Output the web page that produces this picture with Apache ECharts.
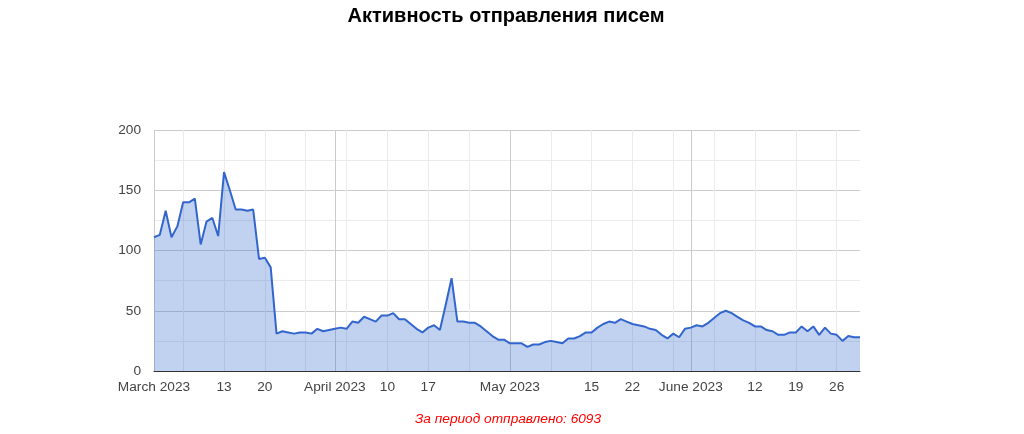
<!DOCTYPE html>
<html>
<head>
<meta charset="utf-8">
<script src="https://cdn.jsdelivr.net/npm/echarts@6/dist/echarts.min.js"></script>
<style>
html,body{margin:0;padding:0;background:#fff;}
#chart{width:1024px;height:434px;}
</style>
</head>
<body>
<div id="chart"></div>
<script>
// Dates: one per day, 2023-03-01 .. 2023-06-30
const startDate = '2023-03-01';
const dayCount = 122;

// Daily sent-letter counts
const sentValues = [
  111,113,133,111,120,140,140,143,105,124,127,112,165,150,134,134,133,134,93,94,86,
  31,33,32,31,32,32,31,35,33,34,35,36,35,41,40,45,43,41,46,46,48,43,
  43,39,35,32,36,38,34,55,77,41,41,40,40,37,33,29,26,26,23,23,
  23,20,22,22,24,25,24,23,27,27,29,32,32,36,39,41,40,43,41,39,38,
  37,35,34,30,27,31,28,35,36,38,37,40,44,48,50,48,45,42,40,37,37,34,33,
  30,30,32,32,37,33,37,30,36,31,30,25,29,28,28
];

// Tick labels shown on the x axis
const shownTickDates = ['2023-03-01','2023-03-13','2023-03-20','2023-04-01','2023-04-10','2023-04-17',
  '2023-05-01','2023-05-15','2023-05-22','2023-06-01','2023-06-12','2023-06-19','2023-06-26'];
const monthNames = ['January','February','March','April','May','June','July','August','September','October','November','December'];

// Gridline positions
const weekLineDates = ['2023-03-06','2023-03-13','2023-03-20','2023-03-27','2023-04-03','2023-04-10','2023-04-17','2023-04-24',
  '2023-05-01','2023-05-08','2023-05-15','2023-05-22','2023-05-29','2023-06-05','2023-06-12','2023-06-19','2023-06-26'];
const monthLineDates = ['2023-03-01','2023-04-01','2023-05-01','2023-06-01'];

const yTicks = [0, 50, 100, 150, 200];

const titleText = 'Активность отправления писем';
const subtitleText = 'За период отправлено: 6093';

function pad(n){return (n<10?'0':'')+n;}
const categories = [];
{
  const d0 = new Date(startDate + 'T00:00:00Z');
  for (let i = 0; i < dayCount; i++) {
    const d = new Date(d0.getTime() + i*86400000);
    categories.push(d.getUTCFullYear() + '-' + pad(d.getUTCMonth()+1) + '-' + pad(d.getUTCDate()));
  }
}

function fmtLabel(v){
  const parts = v.split('-');
  const day = parseInt(parts[2],10);
  if (day === 1) return monthNames[parseInt(parts[1],10)-1] + ' ' + parts[0];
  return String(day);
}

const font = '"Liberation Sans", Arial, sans-serif';
const chart = echarts.init(document.getElementById('chart'));
chart.setOption({
  animation: false,
  backgroundColor: '#fff',
  textStyle: { fontFamily: font },
  grid: { left: 154, right: 164, top: 130, bottom: 63, containLabel: false },
  xAxis: [{
    type: 'category',
    data: categories,
    boundaryGap: false,
    axisLine: { show: true, lineStyle: { color: '#333', width: 1 } },
    axisTick: { show: false },
    axisLabel: {
      color: '#444', fontSize: 13.7, fontFamily: font, margin: 9,
      hideOverlap: false,
      interval: (idx, val) => shownTickDates.indexOf(val) >= 0,
      formatter: fmtLabel
    },
    splitLine: {
      show: true,
      interval: (idx, val) => weekLineDates.indexOf(val) >= 0 && monthLineDates.indexOf(val) < 0,
      lineStyle: { color: '#ebebeb', width: 1 }
    }
  }, {
    type: 'category',
    data: categories,
    boundaryGap: false,
    position: 'bottom',
    axisLine: { show: false },
    axisTick: { show: false },
    axisLabel: { show: false },
    splitLine: {
      show: true,
      interval: (idx, val) => monthLineDates.indexOf(val) >= 0,
      lineStyle: { color: '#cccccc', width: 1 }
    }
  }],
  yAxis: {
    type: 'value',
    min: yTicks[0], max: yTicks[yTicks.length-1], interval: 50,
    axisLine: { show: false },
    axisTick: { show: false },
    axisLabel: { color: '#444', fontSize: 13.7, fontFamily: font, margin: 13 },
    splitLine: { show: true, lineStyle: { color: '#cccccc', width: 1 } },
    minorTick: { show: false, splitNumber: 2 },
    minorSplitLine: { show: true, lineStyle: { color: '#ebebeb', width: 1 } }
  },
  series: [{
    type: 'line',
    data: sentValues,
    xAxisIndex: 0,
    showSymbol: false,
    symbol: 'none',
    lineStyle: { color: '#3366cc', width: 2 },
    itemStyle: { color: '#3366cc' },
    areaStyle: { color: '#3366cc', opacity: 0.3 },
    z: 3
  }],
  graphic: [{
    type: 'text',
    x: 506, y: 16,
    style: {
      text: titleText, fill: '#000', font: 'bold 20px ' + font,
      textAlign: 'center', textVerticalAlign: 'middle'
    }
  }, {
    type: 'text',
    x: 508, y: 419,
    style: {
      text: subtitleText, fill: '#ff0000', font: 'italic 13.7px ' + font,
      textAlign: 'center', textVerticalAlign: 'middle'
    }
  }]
});
</script>
</body>
</html>
